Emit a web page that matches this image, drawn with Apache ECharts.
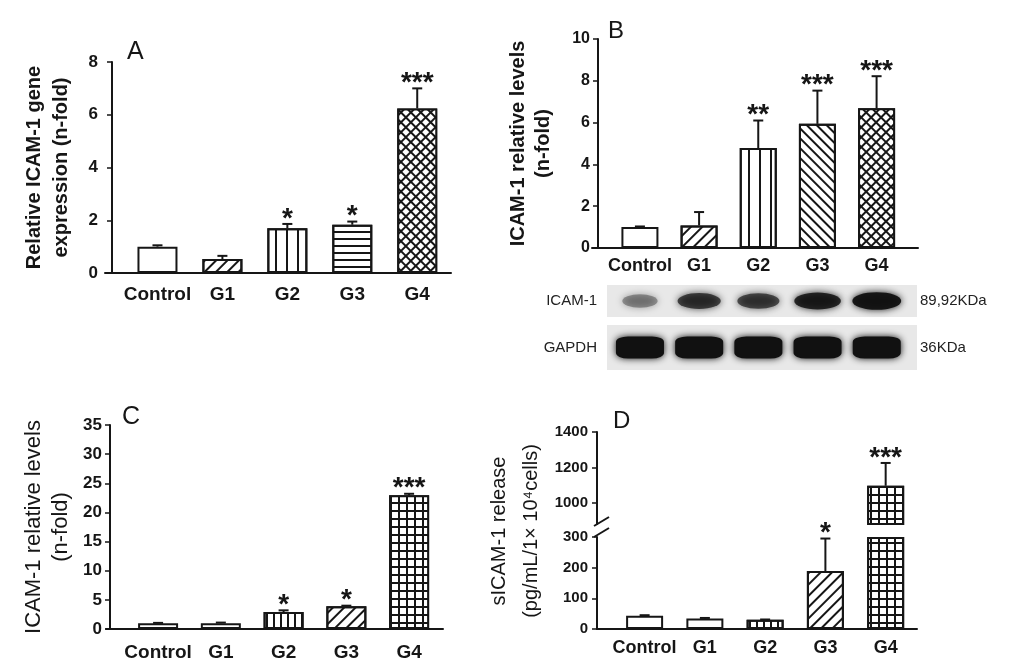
<!DOCTYPE html>
<html>
<head>
<meta charset="UTF-8">
<title>ICAM-1 expression panels</title>
<script src="https://cdn.jsdelivr.net/npm/echarts@6/dist/echarts.min.js"></script>
<style>
  html, body { margin: 0; padding: 0; background: #fff; }
  #chart { width: 1024px; height: 668px; }
</style>
</head>
<body>
<div id="chart"></div>
<script>
const groups = ['Control', 'G1', 'G2', 'G3', 'G4'];
const groupIdx = [0, 1, 2, 3, 4];

// A - relative ICAM-1 gene expression
const aMean = [1.0, 0.53, 1.70, 1.83, 6.24];
const aSem = [0.05, 0.12, 0.16, 0.12, 0.76];
const aSig = ['', '', '*', '*', '***'];
const aTicks = [0, 2, 4, 6, 8];

// B - ICAM-1 protein (western blot densitometry)
const bMean = [1.0, 1.08, 4.78, 5.94, 6.69];
const bSem = [0.03, 0.64, 1.32, 1.59, 1.53];
const bSig = ['', '', '**', '***', '***'];
const bTicks = [0, 2, 4, 6, 8, 10];
const icamBand = [0.35, 0.7, 0.65, 0.85, 0.95];
const gapdhBand = [1, 1, 1, 1, 1];

// C - ICAM-1 relative levels
const cMean = [1.0, 1.0, 2.9, 3.9, 22.95];
const cSem = [0.05, 0.1, 0.3, 0.1, 0.25];
const cSig = ['', '', '*', '*', '***'];
const cTicks = [0, 5, 10, 15, 20, 25, 30, 35];

// D - sICAM-1 release (broken axis)
const dMean = [43, 34, 30, 189, 1096];
const dSem = [2, 2, 1, 106, 129];
const dSig = ['', '', '', '*', '***'];
const dLowTicks = [0, 100, 200, 300];
const dHighTicks = [1000, 1200, 1400];
const dHighMin = 880;

const ink = '#161616';
const font = '"Liberation Sans", Arial, sans-serif';

// hatch fills drawn with echarts decals
function hatch(kind) {
  const d = { symbol: 'rect', symbolSize: 1, color: ink };
  switch (kind) {
    case 'slash': return Object.assign(d, { dashArrayX: [1, 0], dashArrayY: [1.5, 5.5], rotation: -Math.PI / 4 });
    case 'bslash': return Object.assign(d, { dashArrayX: [1, 0], dashArrayY: [1.5, 4.5], rotation: Math.PI / 4 });
    case 'horiz': return Object.assign(d, { dashArrayX: [1, 0], dashArrayY: [1.5, 5] });
    case 'vert': return Object.assign(d, { dashArrayX: [1.5, 8.5], dashArrayY: [1, 0] });
    case 'vertFine': return Object.assign(d, { dashArrayX: [1.5, 5], dashArrayY: [1, 0] });
    case 'xdiag': return Object.assign(d, { color: '#fff', backgroundColor: ink, dashArrayX: [5, 1.6], dashArrayY: [5, 1.6], rotation: Math.PI / 4 });
    case 'grid': return Object.assign(d, { color: '#fff', backgroundColor: ink, dashArrayX: [5.2, 1.6], dashArrayY: [5.2, 1.6] });
    default: return null;
  }
}
const aHatch = ['none', 'slash', 'vert', 'horiz', 'xdiag'];
const bHatch = ['none', 'slash', 'vert', 'bslash', 'xdiag'];
const cHatch = ['none', 'none', 'vertFine', 'slash', 'grid'];
const dHatch = ['none', 'none', 'vertFine', 'slash', 'grid'];

function groupAxis(gi, min, max, fontSize, margin, show) {
  return {
    type: 'value', gridIndex: gi, min: min, max: max, show: show !== false,
    axisLine: { show: true, onZero: false, lineStyle: { color: ink, width: 2 } },
    axisTick: { show: false }, splitLine: { show: false },
    axisLabel: {
      customValues: groupIdx, formatter: v => groups[v] || '',
      fontFamily: font, fontWeight: 'bold', fontSize: fontSize, color: ink, margin: margin
    }
  };
}

function valueAxis(gi, ticks, fontSize, margin, extra) {
  return Object.assign({
    type: 'value', gridIndex: gi,
    min: ticks[0], max: ticks[ticks.length - 1], interval: ticks[1] - ticks[0],
    axisLine: { show: true, onZero: false, lineStyle: { color: ink, width: 2 } },
    axisTick: { show: true, length: 5, lineStyle: { color: ink, width: 1.5 } },
    splitLine: { show: false },
    axisLabel: { fontFamily: font, fontWeight: 'bold', fontSize: fontSize, color: ink, margin: margin, formatter: v => String(v) }
  }, extra || {});
}

function yName(text, size, weight, lineHeight, gap, offset) {
  return {
    offset: offset || 0,
    name: text, nameLocation: 'middle', nameRotate: 90, nameGap: gap,
    nameTextStyle: { fontFamily: font, fontSize: size, fontWeight: weight, color: ink, lineHeight: lineHeight, align: 'center' }
  };
}

function barSeries(xi, yi, means, kinds, width) {
  return {
    type: 'bar', xAxisIndex: xi, yAxisIndex: yi, barWidth: width, silent: true,
    itemStyle: { color: '#fff', borderColor: ink, borderWidth: 2 },
    data: means.map((v, i) => {
      const d = hatch(kinds[i]);
      return d ? { value: [i, v], itemStyle: { decal: d } } : { value: [i, v] };
    }),
    z: 2
  };
}

function errorSeries(xi, yi, rows, sig, yMax) {
  return {
    type: 'custom', xAxisIndex: xi, yAxisIndex: yi, silent: true, z: 3,
    data: rows,
    renderItem: function (params, api) {
      const x = api.value(0), m = api.value(1), s = api.value(2);
      if (m + s > yMax) return null;
      const base = api.coord([x, m]);
      const top = api.coord([x, m + s]);
      const st = { stroke: ink, lineWidth: 2 };
      return {
        type: 'group',
        children: [
          { type: 'line', shape: { x1: base[0], y1: base[1], x2: top[0], y2: top[1] }, style: st },
          { type: 'line', shape: { x1: top[0] - 5, y1: top[1], x2: top[0] + 5, y2: top[1] }, style: st },
          { type: 'text', style: { text: sig[x], x: top[0], y: top[1] - 5, align: 'center', verticalAlign: 'middle',
              fontFamily: font, fontWeight: 'bold', fontSize: 28, fill: ink } }
        ]
      };
    }
  };
}

function rows(means, sems) { return means.map((v, i) => [i, v, sems[i]]); }

function bandSeries(xi, yi, levels, w, h, symbol) {
  return {
    type: 'scatter', xAxisIndex: xi, yAxisIndex: yi, silent: true,
    symbol: symbol,
    symbolSize: (val, p) => [w * (0.55 + 0.45 * levels[p.dataIndex]), h * (0.6 + 0.4 * levels[p.dataIndex])],
    itemStyle: { color: '#111', shadowBlur: 7, shadowColor: '#111' },
    data: levels.map((v, i) => ({ value: [i, 0], itemStyle: { opacity: v } }))
  };
}

function letter(t, x, y, size) {
  return { type: 'text', x: x, y: y, style: { text: t, fontFamily: font, fontSize: size, fill: ink, align: 'left', verticalAlign: 'middle' } };
}

const blotLabel = { fontFamily: font, fontSize: 15, color: '#222' };
const dLowMax = dLowTicks[dLowTicks.length - 1];

const chart = echarts.init(document.getElementById('chart'), null, { renderer: 'canvas' });

chart.setOption({
  animation: false,
  backgroundColor: '#fff',
  grid: [
    { left: 105, top: 62, width: 346, height: 211 },          // A
    { left: 592, top: 39, width: 326, height: 209 },          // B
    { left: 607, top: 285, width: 310, height: 32, show: true, backgroundColor: '#e8e8e8', borderWidth: 0 },  // blot ICAM-1
    { left: 607, top: 325, width: 310, height: 45, show: true, backgroundColor: '#e8e8e8', borderWidth: 0 },  // blot GAPDH
    { left: 106, top: 425, width: 337, height: 204 },         // C
    { left: 597, top: 432, width: 320, height: 92 },          // D upper
    { left: 597, top: 537, width: 320, height: 92 }           // D lower
  ],
  xAxis: [
    groupAxis(0, -0.808, 4.52, 19, 12),
    groupAxis(1, -0.81, 4.7, 18, 9),
    groupAxis(2, -0.557, 4.68, 12, 8, false),
    groupAxis(3, -0.557, 4.68, 12, 8, false),
    groupAxis(4, -0.83, 4.54, 19, 14),
    groupAxis(5, -0.79, 4.52, 18, 10, false),
    groupAxis(6, -0.79, 4.52, 18, 10)
  ],
  yAxis: [
    valueAxis(0, aTicks, 17, 14, yName('Relative ICAM-1 gene\nexpression (n-fold)', 20, 'bold', 27, 37, -7)),
    valueAxis(1, bTicks, 16, 8, yName('ICAM-1 relative levels\n(n-fold)', 20, 'bold', 25, 42, -6)),
    { type: 'category', gridIndex: 2, data: ['ICAM-1'], axisLine: { show: false }, axisTick: { show: false }, axisLabel: Object.assign({ margin: 10 }, blotLabel) },
    { type: 'category', gridIndex: 2, position: 'right', data: ['89,92KDa'], axisLine: { show: false }, axisTick: { show: false }, axisLabel: Object.assign({ margin: 3 }, blotLabel) },
    { type: 'category', gridIndex: 3, data: ['GAPDH'], axisLine: { show: false }, axisTick: { show: false }, axisLabel: Object.assign({ margin: 10 }, blotLabel) },
    { type: 'category', gridIndex: 3, position: 'right', data: ['36KDa'], axisLine: { show: false }, axisTick: { show: false }, axisLabel: Object.assign({ margin: 3 }, blotLabel) },
    valueAxis(4, cTicks, 17, 8, yName('ICAM-1 relative levels\n(n-fold)', 22, 'normal', 27, 36, -4)),
    valueAxis(5, dHighTicks, 15, 9, {
      min: dHighMin, max: dHighTicks[dHighTicks.length - 1], interval: null,
      axisTick: { show: true, length: 5, customValues: dHighTicks, lineStyle: { color: ink, width: 1.5 } },
      axisLabel: { customValues: dHighTicks, formatter: v => String(v), fontFamily: font, fontWeight: 'bold', fontSize: 15, color: ink, margin: 9 }
    }),
    valueAxis(6, dLowTicks, 15, 9)
  ],
  series: [
    barSeries(0, 0, aMean, aHatch, 40),
    errorSeries(0, 0, rows(aMean, aSem), aSig, Infinity),
    barSeries(1, 1, bMean, bHatch, 37),
    errorSeries(1, 1, rows(bMean, bSem), bSig, Infinity),
    bandSeries(2, 2, icamBand, 50, 18, 'circle'),
    bandSeries(3, 4, gapdhBand, 48, 22, 'roundRect'),
    barSeries(4, 6, cMean, cHatch, 40),
    errorSeries(4, 6, rows(cMean, cSem), cSig, Infinity),
    Object.assign(barSeries(5, 7, dMean, dHatch, 37), {
      data: barSeries(5, 7, dMean, dHatch, 37).data.filter(d => d.value[1] > dHighMin)
    }),
    errorSeries(5, 7, rows(dMean, dSem).filter(r => r[1] > dHighMin), dSig, Infinity),
    barSeries(6, 8, dMean.map(v => Math.min(v, dLowMax)), dHatch, 37),
    errorSeries(6, 8, rows(dMean, dSem), dSig, dLowMax)
  ],
  graphic: [
    letter('A', 127, 52, 25),
    letter('B', 608, 31, 24),
    letter('C', 122, 417, 25),
    letter('D', 613, 421, 24),
    {
      type: 'text', x: 515, y: 531, rotation: Math.PI / 2,
      style: { text: 'sICAM-1 release\n(pg/mL/1\u00d7 10\u2074cells)', fontFamily: font, fontSize: 20, lineHeight: 32,
               fill: ink, align: 'center', verticalAlign: 'middle' }
    },
    // axis break marks on D
    { type: 'line', shape: { x1: 594, y1: 526, x2: 609, y2: 517 }, style: { stroke: ink, lineWidth: 2 } },
    { type: 'line', shape: { x1: 594, y1: 537, x2: 609, y2: 528 }, style: { stroke: ink, lineWidth: 2 } }
  ]
});
</script>
</body>
</html>
